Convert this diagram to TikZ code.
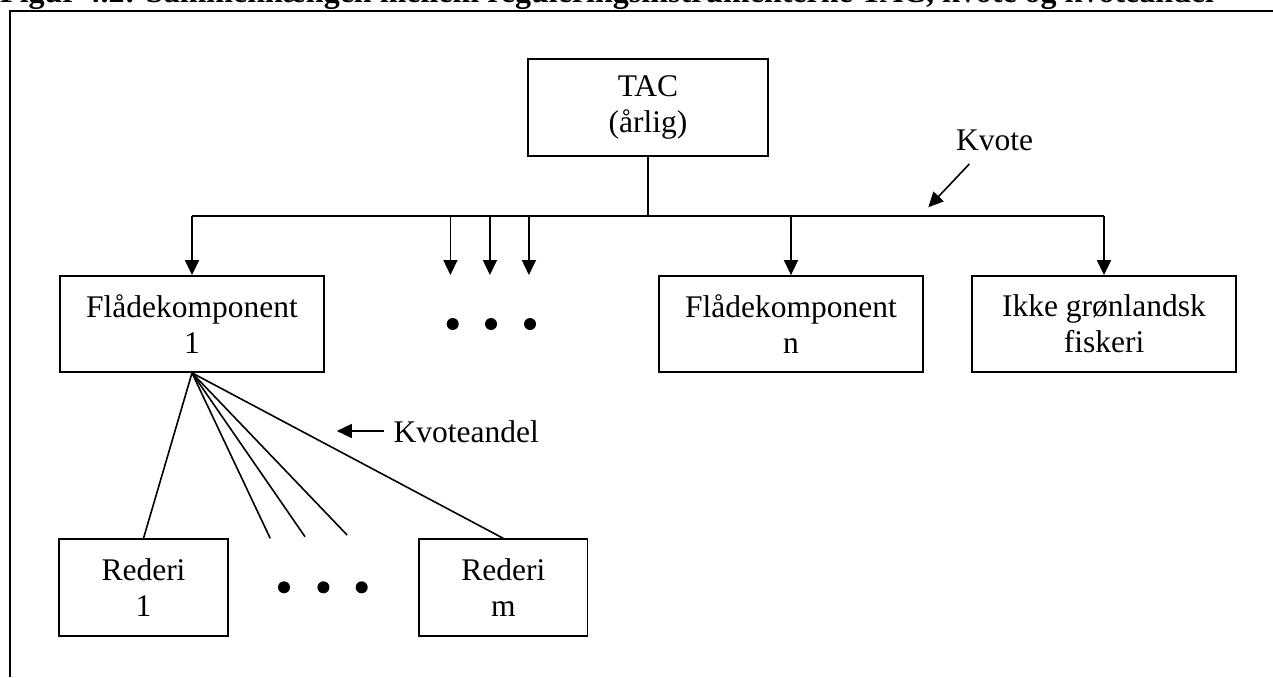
\documentclass[tikz,border=0pt]{standalone}
\usepackage{fontspec}
\setmainfont{Liberation Serif}
\usetikzlibrary{arrows.meta}
\begin{document}
\begin{tikzpicture}[x=1pt,y=-1pt,
  every node/.style={font=\fontsize{31.5}{36.2}\selectfont},
  box/.style={draw, line width=1.8pt, align=center, inner sep=0pt, minimum height=96},
  conn/.style={line width=1.6pt},
  arr/.style={conn, -{Triangle[length=15pt,width=14pt]}},
  frameline/.style={line width=2pt},
  dot/.style={fill=black, circle, inner sep=0pt, minimum size=12pt}]
\useasboundingbox (0,0) rectangle (1273,677);
% title (cut off by the top edge)
\begin{scope}
\clip (0,0) rectangle (1273,10);
\node[anchor=base west, inner sep=0pt, font=\fontsize{32}{36}\selectfont\bfseries] (title) at (0,3)
  {Figur 4.2: Sammenhængen mellem reguleringsinstrumenterne TAC, kvote og kvoteandel};
\end{scope}
% frame
\draw[frameline] (10,677) -- (10,11) -- (1273,11);
% boxes
\node[box, minimum width=240.6, minimum height=97] (tac) at (648,107.5) {TAC\\(årlig)};
\node[box, minimum width=264] (fk1) at (192,324) {Flådekomponent\\1};
\node[box, minimum width=264] (fkn) at (791,324) {Flådekomponent\\n};
\node[box, minimum width=264] (ikke) at (1104,324) {Ikke grønlandsk\\fiskeri};
\node[box, minimum width=168.4, minimum height=96.7] (r1) at (143.5,587.6) {Rederi\\1};
\node[box, minimum width=168.4, minimum height=96.7] (rm) at (503.3,587.6) {Rederi\\m};
% distribution line
\coordinate (hl) at (192,215.7);
\coordinate (hr) at (1104,215.7);
\draw[conn] (tac.south) -- (tac.south |- hl);
\draw[conn] (hl) -- (hr);
\draw[arr] (hl) -- (fk1.north);
\draw[arr] (fkn.north |- hl) -- (fkn.north);
\draw[arr] (hr) -- (ikke.north);
\coordinate (a1) at (450.4,215.7); \coordinate (b1) at (450.4,275);
\coordinate (a2) at (489.9,215.7); \coordinate (b2) at (489.9,275);
\coordinate (a3) at (528.9,215.7); \coordinate (b3) at (528.9,275);
\draw[arr] (a1) -- (b1);
\draw[arr] (a2) -- (b2);
\draw[arr] (a3) -- (b3);
\node[dot] (d1) at (452.7,324) {};
\node[dot] (d2) at (491,324) {};
\node[dot] (d3) at (530,324) {};
% Kvote label
\node[anchor=base west, inner sep=0pt] (kvote) at (956,150) {Kvote};
\coordinate (kvs) at (969.3,164);
\coordinate (kvt) at (928.3,207.3);
\draw[arr] (kvs) -- (kvt);
% fan to rederier
\draw[conn] (fk1.south) -- (r1.north);
\draw[conn] (fk1.south) -- (rm.north);
\coordinate (f1) at (270.2,538.3);
\coordinate (f2) at (305,536.7);
\coordinate (f3) at (347.1,535);
\draw[conn] (fk1.south) -- (f1);
\draw[conn] (fk1.south) -- (f2);
\draw[conn] (fk1.south) -- (f3);
\node[dot] (e1) at (284,587.3) {};
\node[dot] (e2) at (323.4,587.3) {};
\node[dot] (e3) at (361.7,587.3) {};
% Kvoteandel label
\node[anchor=base west, inner sep=0pt] (kvand) at (393.4,442.7) {Kvoteandel};
\coordinate (kas) at (383.9,431);
\coordinate (kat) at (336.8,431);
\draw[arr] (kas) -- (kat);
\end{tikzpicture}
\end{document}
